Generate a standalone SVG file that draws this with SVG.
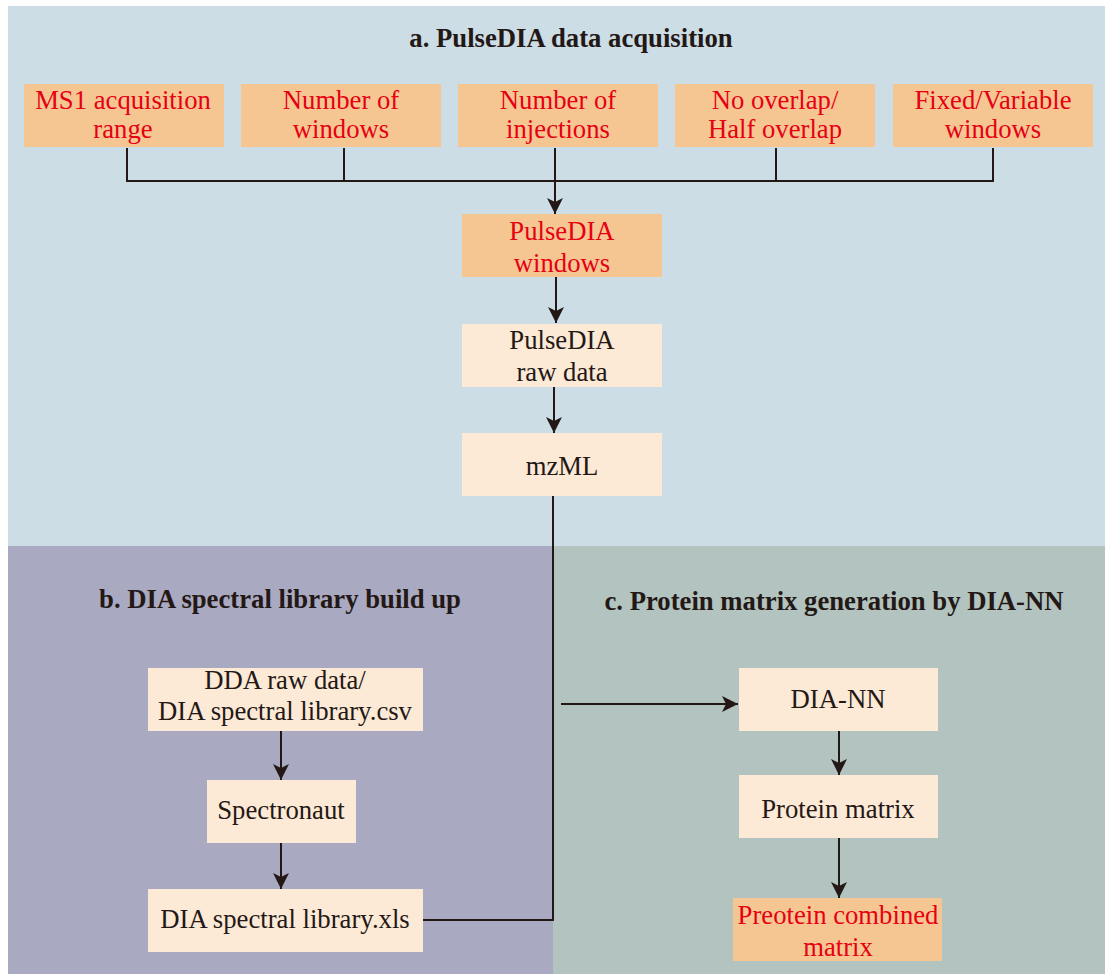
<svg xmlns="http://www.w3.org/2000/svg" width="1105" height="974" viewBox="0 0 1105 974">
<style>
  text { font-family: "Liberation Serif", "Times New Roman", serif; font-size: 26.7px; text-anchor: middle; }
  .title { font-weight: bold; fill: #231815; }
  .red { fill: #E60012; }
  .dark { fill: #231815; }
  .orange { fill: #F5C692; }
  .light { fill: #FCE9D6; }
  .conn line, .conn polyline { stroke: #231815; stroke-width: 2; fill: none; }
</style>
<defs>
  <marker id="arr" viewBox="0 0 16 16" refX="16" refY="8" markerWidth="16" markerHeight="16" markerUnits="userSpaceOnUse" orient="auto">
    <path d="M0,0 L16,8 L0,16 L4,8 Z" fill="#231815"/>
  </marker>
</defs>
<rect width="1105" height="974" fill="#FFFFFF"/>
<g id="panel-a">
  <rect x="8" y="6" width="1097" height="540" fill="#CCDDE5"/>
  <text class="title" x="571" y="46.5">a. PulseDIA data acquisition</text>
</g>
<g id="panel-b">
  <rect x="8" y="546" width="545" height="428" fill="#AAA9C2"/>
  <text class="title" x="280" y="608">b. DIA spectral library build up</text>
</g>
<g id="panel-c">
  <rect x="553" y="546" width="552" height="428" fill="#B2C3C0"/>
  <text class="title" x="834" y="610">c. Protein matrix generation by DIA-NN</text>
</g>
<g class="conn" id="connectors">
  <line x1="127" y1="148" x2="127" y2="181"/>
  <line x1="344" y1="148" x2="344" y2="181"/>
  <line x1="776" y1="148" x2="776" y2="181"/>
  <line x1="993" y1="148" x2="993" y2="181"/>
  <line x1="126" y1="181" x2="994" y2="181"/>
  <line x1="555" y1="148" x2="555" y2="214" marker-end="url(#arr)"/>
  <line x1="556" y1="277" x2="556" y2="323" marker-end="url(#arr)"/>
  <line x1="554" y1="387" x2="554" y2="433" marker-end="url(#arr)"/>
  <polyline points="553,496 553,920 423,920"/>
  <line x1="561" y1="704" x2="738" y2="704" marker-end="url(#arr)"/>
  <line x1="281" y1="731" x2="281" y2="780" marker-end="url(#arr)"/>
  <line x1="281" y1="843" x2="281" y2="889" marker-end="url(#arr)"/>
  <line x1="839" y1="731" x2="839" y2="775" marker-end="url(#arr)"/>
  <line x1="839" y1="838" x2="839" y2="898" marker-end="url(#arr)"/>
</g>
<g id="ms1-range">
  <rect class="orange" x="24" y="84" width="200" height="63"/>
  <text class="red" x="123" y="109">MS1 acquisition</text>
  <text class="red" x="123" y="138">range</text>
</g>
<g id="num-windows">
  <rect class="orange" x="241" y="84" width="200" height="63"/>
  <text class="red" x="341" y="109">Number of</text>
  <text class="red" x="341" y="138">windows</text>
</g>
<g id="num-injections">
  <rect class="orange" x="458" y="84" width="200" height="63"/>
  <text class="red" x="558" y="109">Number of</text>
  <text class="red" x="558" y="138">injections</text>
</g>
<g id="overlap">
  <rect class="orange" x="675" y="84" width="200" height="63"/>
  <text class="red" x="775" y="109">No overlap/</text>
  <text class="red" x="775" y="138">Half overlap</text>
</g>
<g id="fixed-variable">
  <rect class="orange" x="893" y="84" width="200" height="63"/>
  <text class="red" x="993" y="109">Fixed/Variable</text>
  <text class="red" x="993" y="138">windows</text>
</g>
<g id="pulsedia-windows">
  <rect class="orange" x="462" y="214" width="200" height="63"/>
  <text class="red" x="562" y="240">PulseDIA</text>
  <text class="red" x="562" y="272">windows</text>
</g>
<g id="pulsedia-raw">
  <rect class="light" x="462" y="324" width="200" height="63"/>
  <text class="dark" x="562" y="349">PulseDIA</text>
  <text class="dark" x="562" y="381">raw data</text>
</g>
<g id="mzml">
  <rect class="light" x="462" y="433" width="200" height="63"/>
  <text class="dark" x="562" y="475">mzML</text>
</g>
<g id="dda-raw">
  <rect class="light" x="148" y="668" width="275" height="63"/>
  <text class="dark" x="285" y="689">DDA raw data/</text>
  <text class="dark" x="285" y="720">DIA spectral library.csv</text>
</g>
<g id="spectronaut">
  <rect class="light" x="207" y="780" width="149" height="63"/>
  <text class="dark" x="281" y="819">Spectronaut</text>
</g>
<g id="dia-xls">
  <rect class="light" x="148" y="889" width="275" height="63"/>
  <text class="dark" x="285" y="928">DIA spectral library.xls</text>
</g>
<g id="dia-nn">
  <rect class="light" x="739" y="668" width="199" height="63"/>
  <text class="dark" x="838" y="708">DIA-NN</text>
</g>
<g id="protein-matrix">
  <rect class="light" x="739" y="775" width="199" height="63"/>
  <text class="dark" x="838" y="818">Protein matrix</text>
</g>
<g id="combined-matrix">
  <rect class="orange" x="733" y="898" width="209" height="63"/>
  <text class="red" x="838" y="924">Preotein combined</text>
  <text class="red" x="838" y="956">matrix</text>
</g>
</svg>
